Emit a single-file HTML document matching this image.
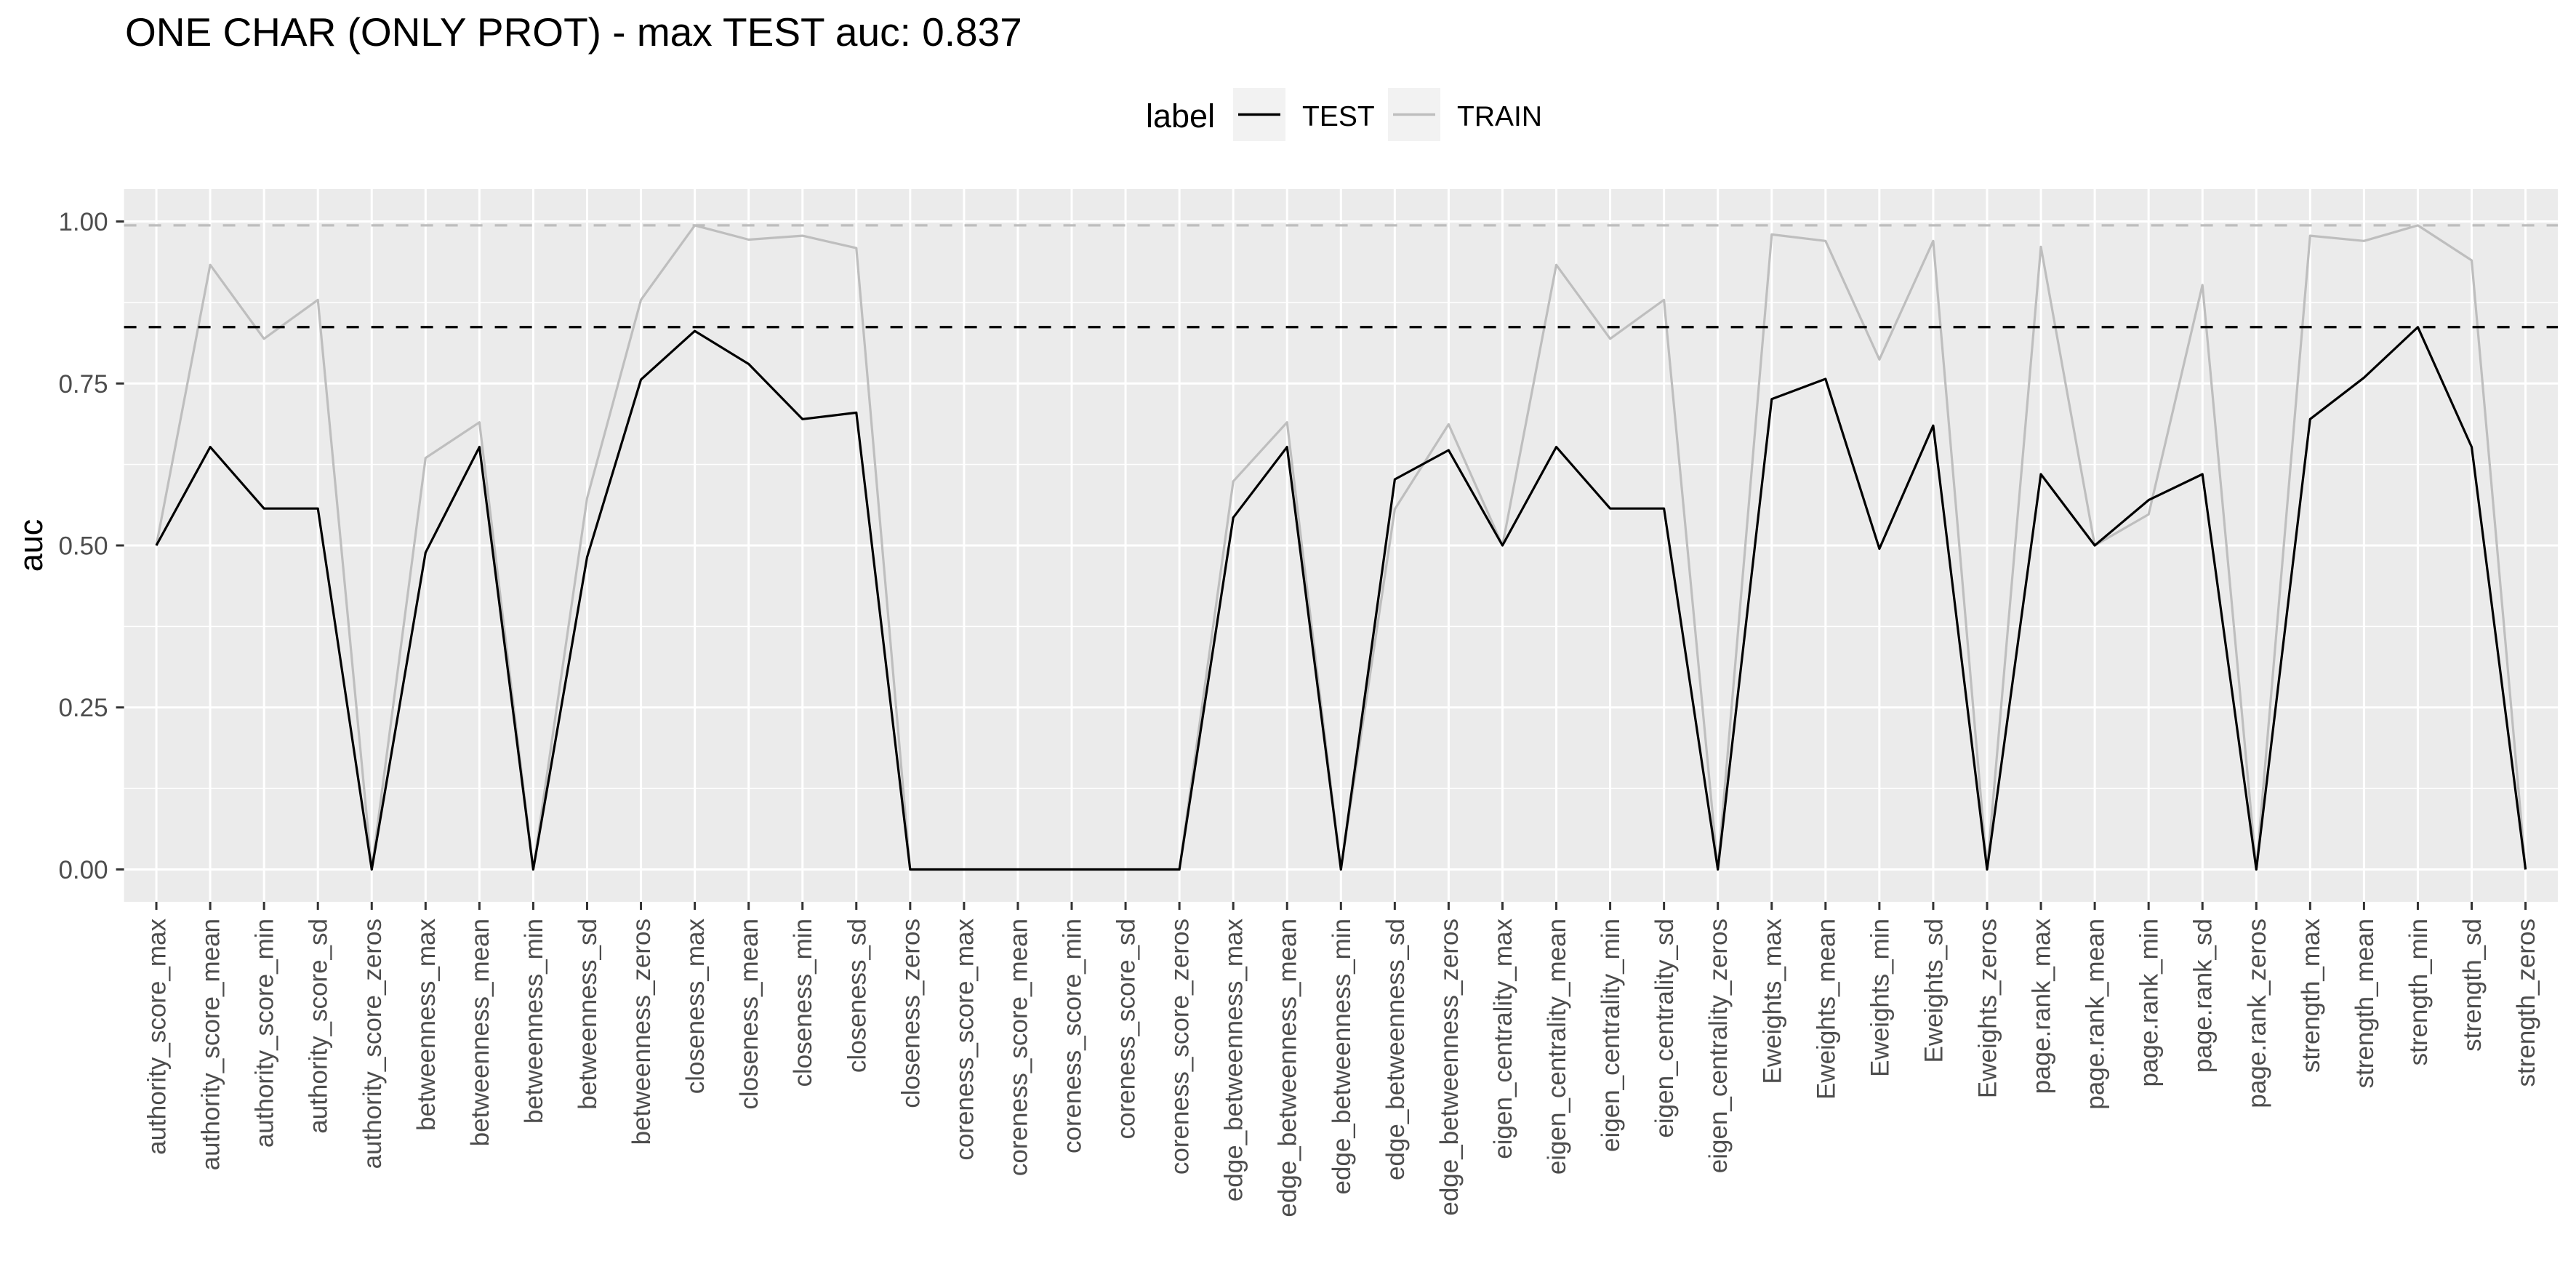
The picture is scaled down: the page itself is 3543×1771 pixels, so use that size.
<!DOCTYPE html>
<html><head><meta charset="utf-8"><style>
html,body{margin:0;padding:0;background:#fff;}
svg{display:block;font-family:"Liberation Sans",Arial,sans-serif;}
</style></head><body>
<svg id="chart" width="3543" height="1771" viewBox="0 0 3543 1771" xmlns="http://www.w3.org/2000/svg">
<rect width="3543" height="1771" fill="#fff"/>
<text x="172" y="63" font-size="55" fill="#000">ONE CHAR (ONLY PROT) - max TEST auc: 0.837</text>
<g>
<text x="1576" y="175" font-size="45" fill="#000">label</text>
<g>
<rect x="1696" y="121" width="72" height="73" fill="#F2F2F2"/>
<line x1="1703" y1="157.5" x2="1761" y2="157.5" stroke="#000" stroke-width="3.5"/>
<text x="1791" y="173" font-size="39" fill="#000">TEST</text>
</g>
<g>
<rect x="1909" y="121" width="72" height="73" fill="#F2F2F2"/>
<line x1="1916" y1="157.5" x2="1974" y2="157.5" stroke="#BEBEBE" stroke-width="3.5"/>
<text x="2004" y="173" font-size="39" fill="#000">TRAIN</text>
</g>
</g>
<text transform="translate(58,750) rotate(-90)" text-anchor="middle" font-size="45" fill="#000">auc</text>
<g id="plot"></g>
</svg>
<script>
const categories = ["authority_score_max","authority_score_mean","authority_score_min","authority_score_sd","authority_score_zeros","betweenness_max","betweenness_mean","betweenness_min","betweenness_sd","betweenness_zeros","closeness_max","closeness_mean","closeness_min","closeness_sd","closeness_zeros","coreness_score_max","coreness_score_mean","coreness_score_min","coreness_score_sd","coreness_score_zeros","edge_betweenness_max","edge_betweenness_mean","edge_betweenness_min","edge_betweenness_sd","edge_betweenness_zeros","eigen_centrality_max","eigen_centrality_mean","eigen_centrality_min","eigen_centrality_sd","eigen_centrality_zeros","Eweights_max","Eweights_mean","Eweights_min","Eweights_sd","Eweights_zeros","page.rank_max","page.rank_mean","page.rank_min","page.rank_sd","page.rank_zeros","strength_max","strength_mean","strength_min","strength_sd","strength_zeros"];
const testValues = [0.500,0.652,0.557,0.557,0,0.489,0.652,0,0.482,0.756,0.831,0.780,0.695,0.705,0,0,0,0,0,0,0.543,0.652,0,0.602,0.647,0.500,0.652,0.557,0.557,0,0.726,0.757,0.495,0.685,0,0.610,0.500,0.570,0.610,0,0.695,0.759,0.837,0.652,0];
const trainValues = [0.500,0.933,0.819,0.879,0,0.635,0.690,0,0.573,0.879,0.994,0.972,0.978,0.959,0,0,0,0,0,0,0.599,0.690,0,0.556,0.687,0.500,0.933,0.819,0.879,0,0.980,0.970,0.787,0.970,0,0.961,0.500,0.548,0.902,0,0.978,0.970,0.994,0.940,0];
const yTicks = [0, 0.25, 0.5, 0.75, 1.0];
const yTickLabels = ["0.00","0.25","0.50","0.75","1.00"];
const hLines = [0.994, 0.837];

const NS = "http://www.w3.org/2000/svg";
const PL = 170.6, PR = 3518, PT = 260, PB = 1240;
const yMin = -0.05, yMax = 1.05;
const n = categories.length;
const step = (PR - PL) / (n - 1 + 1.2);
function xPos(i){ return PL + step * (0.6 + i); }
function yPos(v){ return PB - (v - yMin) / (yMax - yMin) * (PB - PT); }
const plot = document.getElementById('plot');
function mk(tag, attrs, parent){
  const e = document.createElementNS(NS, tag);
  for (const k in attrs) e.setAttribute(k, attrs[k]);
  (parent || plot).appendChild(e);
  return e;
}
const panel = mk('rect', {x:PL, y:PT, width:PR-PL, height:PB-PT, fill:'#EBEBEB'});


for (let k = 0; k < yTicks.length - 1; k++) {
  const v = (yTicks[k] + yTicks[k+1]) / 2;
  const l = mk('line', {x1:PL, x2:PR, y1:yPos(v), y2:yPos(v), stroke:'#fff', 'stroke-width':1.5});
  
  
}
yTicks.forEach((v, k) => {
  const y = yPos(v);
  const g = mk('line', {x1:PL, x2:PR, y1:y, y2:y, stroke:'#fff', 'stroke-width':3});
  
  
  const t = mk('line', {x1:PL-11, x2:PL, y1:y, y2:y, stroke:'#333', 'stroke-width':3});
  
  
  const lb = mk('text', {x:PL-22, y:y+12.5, 'text-anchor':'end', 'font-size':35, fill:'#4D4D4D'});
  lb.textContent = yTickLabels[k];
  
  
});
categories.forEach((c, i) => {
  const x = xPos(i);
  const g = mk('line', {x1:x, x2:x, y1:PT, y2:PB, stroke:'#fff', 'stroke-width':3});
  
  
  const t = mk('line', {x1:x, x2:x, y1:PB, y2:PB+11, stroke:'#333', 'stroke-width':3});
  
  
  const lb = mk('text', {transform:'translate(' + (x+12.5) + ',' + (PB+23) + ') rotate(-90)', 'text-anchor':'end', 'font-size':35, fill:'#4D4D4D'});
  lb.textContent = c;
  
  
});
function series(vals, color, name){
  const pts = vals.map((v, i) => xPos(i).toFixed(1) + ',' + yPos(v).toFixed(1)).join(' ');
  const p = mk('polyline', {points:pts, fill:'none', stroke:color, 'stroke-width':3.2, 'stroke-linejoin':'round'});
  
  
}
series(trainValues, '#BEBEBE', 'train-line');
series(testValues, '#000000', 'test-line');
const hColors = ['#BEBEBE', '#000000'];
const hNames = ['max-train-auc-line', 'max-test-auc-line'];
hLines.forEach((v, k) => {
  const l = mk('line', {x1:PL, x2:PR, y1:yPos(v), y2:yPos(v), stroke:hColors[k], 'stroke-width':3.2, 'stroke-dasharray':'17 17'});
  
  
});
</script>
</body></html>
